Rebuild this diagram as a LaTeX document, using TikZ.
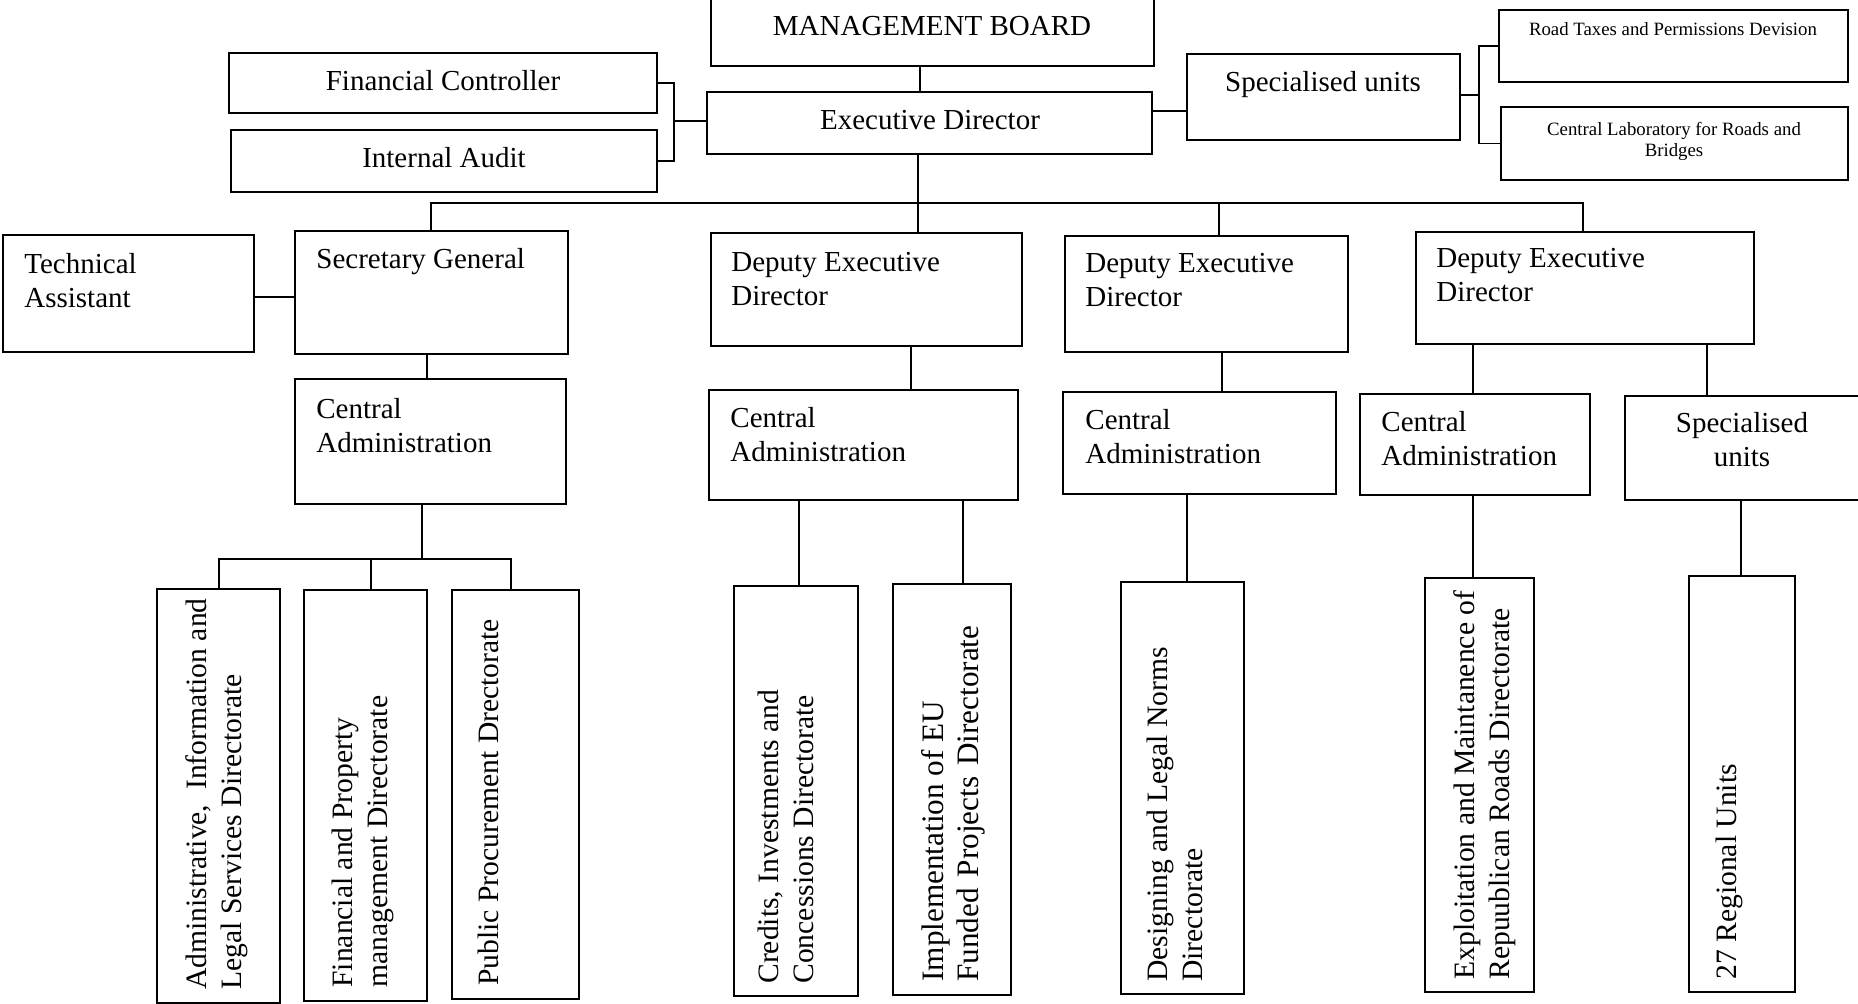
\documentclass[tikz,border=0pt]{standalone}
\usepackage{fontspec}
\setmainfont{Liberation Serif}
\usetikzlibrary{calc}
\newcommand{\mainsz}{\fontsize{14.5}{17.2}\selectfont}
\newcommand{\rotsz}{\fontsize{14.8}{17.4}\selectfont}
\newcommand{\bigrotsz}{\fontsize{15.6}{17.6}\selectfont}
\newcommand{\smallsz}{\fontsize{9.4}{10.2}\selectfont}
\newcommand{\orgbox}[5]{\node[boxst, minimum width={(#4-#2)*0.5pt}, minimum height={(#5-#3)*0.5pt}] (#1) at ({(#2+#4)/2},{(#3+#5)/2}) {};}
\begin{document}
\begin{tikzpicture}[x=0.5pt,y=-0.5pt,
  boxst/.style={draw, line width=1.1pt, inner sep=0pt, rectangle},
  conn/.style={line width=0.9pt},
  txtl/.style={inner sep=0pt, font=\mainsz, align=left, anchor=north west},
  txtb/.style={inner sep=0pt, font=\mainsz, anchor=base},
  txtbl/.style={inner sep=0pt, font=\mainsz, anchor=base west},
  txtc/.style={inner sep=0pt, font=\mainsz, align=center, anchor=north},
  rtxt/.style={inner sep=0pt, font=\rotsz, align=left, rotate=90, anchor=north west}]
\useasboundingbox (0,0) rectangle (1858,1004);
\fill[white] (0,0) rectangle (1858,1004);
\clip (0,0) rectangle (1858,1004);

% boxes
\orgbox{MB}{711}{-5}{1154}{66}
\orgbox{FC}{229}{53}{657}{113}
\orgbox{IA}{231}{130}{657}{192}
\orgbox{ED}{707}{92}{1152}{154}
\orgbox{SU}{1187}{54}{1460}{140}
\orgbox{RT}{1499}{10}{1848}{82}
\orgbox{CL}{1501}{107}{1848}{180}
\orgbox{TA}{3}{235}{254}{352}
\orgbox{SG}{295}{231}{568}{354}
\orgbox{DEDa}{711}{233}{1022}{346}
\orgbox{DEDb}{1065}{236}{1348}{352}
\orgbox{DEDc}{1416}{232}{1754}{344}
\orgbox{CAa}{295}{379}{566}{504}
\orgbox{CAb}{709}{390}{1018}{500}
\orgbox{CAc}{1063}{392}{1336}{494}
\orgbox{CAd}{1360}{394}{1590}{495}
\orgbox{SUb}{1625}{396}{1862}{500}
\orgbox{DA}{157}{589}{280}{1003}
\orgbox{DB}{304}{590}{427}{1001}
\orgbox{DC}{452}{590}{579}{999}
\orgbox{DD}{734}{586}{858}{996}
\orgbox{DE}{893}{584}{1011}{995}
\orgbox{DF}{1121}{582}{1244}{994}
\orgbox{DG}{1425}{578}{1534}{992}
\orgbox{DH}{1689}{576}{1795}{992}

% texts
\node[txtb] (tMB) at (932,36) {MANAGEMENT BOARD};
\node[txtb] (tFC) at (443,91) {Financial Controller};
\node[txtb] (tIA) at (444,168) {Internal Audit};
\node[txtb] (tED) at (930,130) {Executive Director};
\node[txtb] (tSU) at (1323,92) {Specialised units};
\node[inner sep=0pt, font=\smallsz, anchor=base] (tRT) at (1673,36) {Road Taxes and Permissions Devision};
\node[inner sep=0pt, font=\smallsz, align=center, anchor=north] (tCL) at (1674,122) {Central Laboratory for Roads and\\Bridges};
\node[txtl] (tTA) at (24,253) {Technical\\Assistant};
\node[txtbl] (tSG) at (316,269) {Secretary General};
\node[txtl] (tDEDa) at (731,252) {Deputy Executive\\Director};
\node[txtl] (tDEDb) at (1085,253) {Deputy Executive\\Director};
\node[txtl] (tDEDc) at (1436,248) {Deputy Executive\\Director};
\node[txtl] (tCAa) at (316,398) {Central\\Administration};
\node[txtl] (tCAb) at (730,407) {Central\\Administration};
\node[txtl] (tCAc) at (1085,409) {Central\\Administration};
\node[txtl] (tCAd) at (1381,411) {Central\\Administration};
\node[txtc] (tSUb) at (1742,412) {Specialised\\units};
\node[rtxt] (tDA) at (185,990) {Administrative,\ \ Information and\\Legal Services Directorate};
\node[rtxt] (tDB) at (332,988) {Financial and Property\\management Directorate};
\node[rtxt] (tDC) at (478,986) {Public Procurement Drectorate};
\node[rtxt] (tDD) at (758,984) {Credits, Investments and\\Concessions Directorate};
\node[rtxt, font=\bigrotsz] (tDE) at (921,982) {Implementation of EU\\Funded\hspace{1.5pt} Projects\hspace{1.5pt} Directorate};
\node[rtxt] (tDF) at (1147,982) {Designing and Legal Norms\\Directorate};
\node[rtxt] (tDG) at (1453,980) {Exploitation and Maintanence of\\Repuublican Roads Directorate};
\node[rtxt] (tDH) at (1716,980) {27 Regional Units};

% junction coordinates
\coordinate (cMB) at (920,0);
\coordinate (jFI) at (674,121);
\coordinate (jES) at (1170,111);
\coordinate (jSU) at (1479,95);
\coordinate (bus) at (0,203);
\coordinate (cSG) at (431,0);
\coordinate (cED) at (918,0);
\coordinate (cDb) at (1219,0);
\coordinate (cDc) at (1583,0);
\coordinate (jTS) at (270,297);
\coordinate (c1) at (427,0);
\coordinate (sb) at (422,559);
\coordinate (xA) at (219,0);
\coordinate (xB) at (371,0);
\coordinate (xC) at (511,0);
\coordinate (c2) at (911,0);
\coordinate (xD) at (799,0);
\coordinate (xE) at (963,0);
\coordinate (c3) at (1222,0);
\coordinate (xF) at (1187,0);
\coordinate (c4) at (1473,0);
\coordinate (c5) at (1707,0);
\coordinate (xH) at (1741,0);

% connectors
\draw[conn] (MB.south -| cMB) -- (ED.north -| cMB);
\draw[conn] (FC.east) -| (jFI) |- (IA.east);
\draw[conn] (jFI) -- (jFI -| ED.west);
\draw[conn] (ED.east |- jES) -- (SU.west |- jES);
\draw[conn] (SU.east |- jSU) -- (jSU);
\draw[conn] (RT.west) -| (jSU) |- (CL.west);
\draw[conn] (ED.south -| cED) -- (DEDa.north -| cED);
\draw[conn] (SG.north -| cSG) -- (cSG |- bus) -- (cDc |- bus) -- (DEDc.north -| cDc);
\draw[conn] (cDb |- bus) -- (DEDb.north -| cDb);
\draw[conn] (TA.east |- jTS) -- (SG.west |- jTS);
\draw[conn] (SG.south -| c1) -- (CAa.north -| c1);
\draw[conn] (CAa.south -| sb) -- (sb);
\draw[conn] (DA.north -| xA) -- (xA |- sb) -- (xC |- sb) -- (DC.north -| xC);
\draw[conn] (xB |- sb) -- (DB.north -| xB);
\draw[conn] (DEDa.south -| c2) -- (CAb.north -| c2);
\draw[conn] (CAb.south -| xD) -- (DD.north -| xD);
\draw[conn] (CAb.south -| xE) -- (DE.north -| xE);
\draw[conn] (DEDb.south -| c3) -- (CAc.north -| c3);
\draw[conn] (CAc.south -| xF) -- (DF.north -| xF);
\draw[conn] (DEDc.south -| c4) -- (CAd.north -| c4);
\draw[conn] (DEDc.south -| c5) -- (SUb.north -| c5);
\draw[conn] (CAd.south -| c4) -- (DG.north -| c4);
\draw[conn] (SUb.south -| xH) -- (DH.north -| xH);
\end{tikzpicture}
\end{document}
